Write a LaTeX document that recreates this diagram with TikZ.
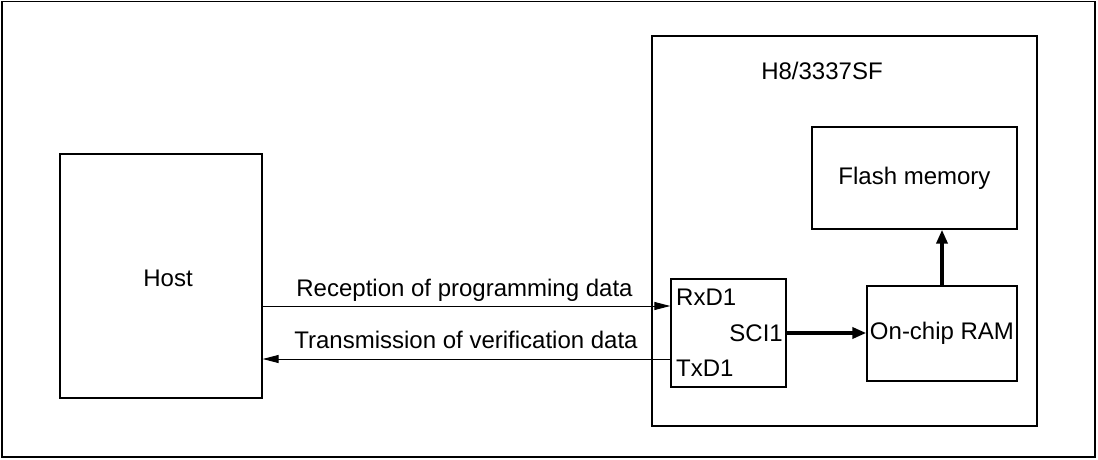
\documentclass[tikz,border=0pt]{standalone}
\usepackage{fontspec}
\setmainfont{Liberation Sans}
\usetikzlibrary{arrows.meta}
\begin{document}
\begin{tikzpicture}[x=1pt,y=-1pt,
  font=\fontsize{24}{28}\selectfont,
  box/.style={draw, line width=1.4pt, inner sep=0pt},
  lbl/.style={inner sep=0pt},
  thinarrow/.style={line width=1pt, -{Triangle[length=16pt,width=8pt]}},
  thickarrow/.style={line width=3.5pt, -{Triangle[length=14pt,width=11pt]}}]
\useasboundingbox (0,0) rectangle (1098,460);
\draw[line width=1.4pt] (2,1.5) rectangle (1095,457);
\node[box, minimum width=202pt, minimum height=244pt] (host) at (161,276) {};
\node[lbl] (hostl) at (168,278) {Host};
\node[box, minimum width=385pt, minimum height=390pt] (chip) at (844.5,231) {};
\node[lbl] (chipl) at (822,71) {H8/3337SF};
\node[box, minimum width=205pt, minimum height=102pt] (flash) at (914.5,178) {Flash memory};
\node[box, minimum width=150pt, minimum height=95pt] (ram) at (942,333.5) {On-chip RAM};
\node[box, minimum width=115pt, minimum height=108pt] (sci) at (728.5,333) {};
\node[lbl, anchor=west] (rx) at (676,297) {RxD1};
\node[lbl, anchor=east] (scil) at (783,333) {SCI1};
\node[lbl, anchor=west] (tx) at (676,368) {TxD1};
\coordinate (a1) at (262,306);
\coordinate (a2) at (671,359);
\draw[thinarrow] (a1) -- (sci.west |- a1);
\draw[thinarrow] (a2) -- (host.east |- a2);
\node[lbl, anchor=base] (rcv) at (464.5,296) {Reception of programming data};
\node[lbl, anchor=base] (trn) at (466,348) {Transmission of verification data};
\draw[thickarrow] (sci.east |- scil) -- (ram.west |- scil);
\draw[thickarrow] (ram.north) -- (flash.south -| ram.north);
\end{tikzpicture}
\end{document}
